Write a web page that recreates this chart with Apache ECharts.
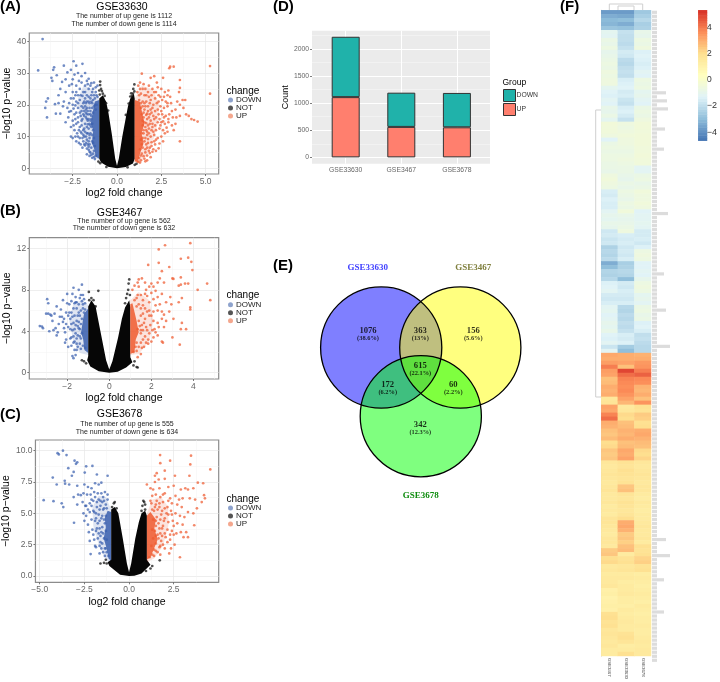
<!DOCTYPE html>
<html><head><meta charset="utf-8">
<style>html,body{margin:0;padding:0;background:#fff}#c{width:720px;height:682px}</style>
<script src="https://cdn.jsdelivr.net/npm/echarts@6/dist/echarts.min.js"></script>
</head><body><div id="c"></div>
<script>
// ---------- panel A (GSE33630) ----------
const aDown=[-4.2,40.7,-4.45,30.8,-3.6,31,-3.55,31.8,-3.7,28.5,-3.65,27.5,-3.4,29.3,-3,32.3,-2.45,33.7,-2.3,32.3,-1.95,32.9,-2.8,30.2,-2.6,31,-2.9,28,-3.1,27.2,-3.2,25,-3.3,23,-3.9,22,-4,21,-4.05,19,-3.95,16,-3.5,20.2,-3.3,20.5,-3.2,17.2,-3,21,-2.9,24,-2.7,26,-2.5,28,-2.4,29.5,-2.2,30,-2,29,-1.8,30,-1.6,28.2,-1.5,26,-1.3,27,-1.2,25.5,-2.6,22,-2.5,24,-2.3,26,-2.2,23,-2.1,25,-2,27,-1.9,24,-1.8,26,-1.7,23,-1.6,25,-1.5,22,-1.4,24,-2.8,19,-2.7,20.5,-2.6,18,-2.5,20,-2.4,17,-2.3,21,-2.2,19,-2.1,21.5,-2,18,-1.9,20.5,-1.8,22,-1.7,19,-1.6,21,-1.5,18,-1.4,20.5,-1.3,23,-2.9,14.5,-2.75,16,-2.6,13,-2.5,15,-2.4,12,-2.3,14,-2.2,16,-2.1,13,-2,15,-1.9,12,-1.85,16.5,-1.8,14,-1.75,17.5,-1.7,11,-1.65,15,-1.6,17,-2.6,10,-2.5,9.5,-2.3,8.5,-2.2,10,-2.1,9.5,-2,11,-1.9,8.5,-1.85,10,-1.8,7.2,-1.7,9,-1.6,5.8,-1.65,7.5,-1.55,9.5,-1.5,4.9,-1.45,6.5,-1.4,3.3,-1.5,11,-1.5,13.5,-1.45,15.5,-1.4,8.5,-1.35,17.5,-1.35,4.6,-1.3,19.5,-1.25,22,-1.2,24,-1.15,23,-1.1,26,-1.1,22.5,-2.1,17.5,-2.35,23,-2.55,26.5,-2.15,27.5,-1.7,27.5,-1.95,22.8,-1.75,20.5,-2.45,18.8,-2.7,17.8,-3.05,19.5,-3.45,17.2];
const aDownMore=[-1.2,4,-1.3,5.5,-1.25,7,-1.35,8,-1.3,9.5,-1.4,10.5,-1.35,12,-1.45,13,-1.4,14,-1.5,15,-1.45,16.5,-1.5,17,-1.4,19,-1.45,21,-1.35,21.5,-1.55,7.5,-1.6,8.5,-1.55,10.5,-1.65,11,-1.6,12.5,-1.7,13,-1.55,14,-1.65,13.8,-1.7,15.5,-1.6,15.5,-1.75,16,-1.65,18,-1.55,19,-1.7,17,-1.75,18.5,-1.8,19.5,-1.85,18,-1.9,17,-1.95,15.5,-2,13.5,-1.8,11.5,-1.85,12.5,-1.75,10,-1.9,10.5,-1.95,9.5,-2.05,11.5,-2.15,12,-2.2,14.5,-2.05,16.5,-2,19.5,-1.9,19,-1.85,21,-1.7,21,-1.6,22.5,-1.55,20.5,-1.45,23,-1.35,25,-1.25,20,-1.2,18.5,-1.15,20,-1.6,6.8,-1.7,6.2,-1.75,8,-1.85,7.5,-1.55,5.2,-1.45,4.2,-1.3,3.5,-1.25,2.9,-1.55,3.9,-1.7,4.4,-1.95,6.5,-2.05,7.5,-2.15,8,-2.25,11,-2.35,10,-2.45,13.5,-2.35,15.5,-2.3,17.5,-2.2,20.5,-2.05,23,-1.8,24,-1.65,26.5,-1.45,26.8,-2.3,24,-2.45,22,-2.35,19.8];
const aUp=[5.25,32.2,5.25,23.5,3,32,2.95,31.5,3.2,32,3.55,27.8,3.55,25.3,3.5,24,2.9,24.5,2.85,23,3,22.5,3.4,21,3.7,21.5,3.85,21.5,3.55,20,3.75,19,3.9,17,4.05,16.5,4.2,15.5,4.35,15.2,4.55,14.7,3.55,8.5,3.2,12,1.4,29.8,1.3,27,1.5,26.5,1.9,28.5,2.1,29,2.6,28.5,2.25,27,1.2,26,1.6,25,1.8,26,2,25,2.2,24,2.5,25,2.7,24,1.15,24,1.35,23.5,1.55,23,1.75,24,1.95,23,2.15,22,2.35,23,2.55,21.5,2.75,21,3.05,20.5,1.25,21.5,1.45,21,1.65,21,1.85,20.5,2.05,20,2.25,20.5,2.45,19.5,2.65,19,2.85,19.5,3.1,18,3.3,18.5,1.35,19,1.55,18.5,1.75,18,1.95,17.5,2.15,18,2.35,17,2.55,17,2.75,16.5,2.95,17,3.15,16,3.35,16,3.55,16.5,1.5,16,1.7,15.5,1.9,15,2.1,15.5,2.3,14.5,2.5,14.5,2.7,14,2.9,14.5,3.1,13.5,3.3,14,1.6,13,1.8,12.5,2,13,2.2,12,2.4,12.5,2.6,12,2.85,11.5,1.5,11,1.7,10.5,1.9,10,2.1,10.5,2.3,9.5,2.5,10,1.55,8.5,1.75,8,1.95,8.2,2.15,7.5,2.4,7.8,1.45,6.5,1.6,6,1.8,5.5,2,5.2,1.4,4.6,1.5,3.8,1.7,4,1.9,3.5,1.35,2.5,1.7,2.5,1.2,2,1.3,1.8];
const aUpMore=[1.15,2.2,1.25,3.2,1.35,4,1.3,6,1.4,7.5,1.35,9,1.45,9.5,1.4,11,1.5,12,1.45,13.5,1.55,14.5,1.45,15,1.5,17.5,1.4,17,1.45,19.5,1.35,20.5,1.25,23,1.6,5,1.7,6.5,1.65,7.5,1.6,9.5,1.75,9.2,1.7,11.5,1.65,12,1.8,11,1.75,13.5,1.65,14.2,1.85,14,1.8,16,1.65,16.8,1.85,17,1.7,17.2,1.6,19.5,1.75,19.5,1.55,20.5,1.9,18.5,2,19,1.9,21.5,1.8,22.5,1.65,23,1.45,25,1.3,25,1.95,12,2.05,11.5,2,14,2.15,13.5,2.05,16.5,2.2,16,2.3,18.5,2.4,15.5,2.45,13.5,2.2,9,2.1,8.5,1.85,6.5,1.95,7,2.05,6,1.55,3,1.6,2.2,1.85,4.8,2.2,5.5,2.35,6.3,2.6,8.5,2.7,11,2.8,12.8,2.9,15.5,2.6,14.8,2.65,16,2.5,18,2.1,24,2.3,25.5,2.45,22.5,2.65,22.5,2.85,20.5,2.35,21];
const aNotPts=[-0.95,27.3,-0.95,26.2,-0.9,25,-0.85,24.3,-1,24.5,-0.8,23.5,-0.7,22.8,-0.97,23.2,0.98,26.4,0.92,25,0.9,23.5,0.85,22.8,0.8,23.6,0.98,24.2,0.75,22.6,-1.05,2.1,-0.95,1.6,1.1,1.4,1,1.1,-0.6,0.4,0.6,0.3,-0.62,20.5,0.66,20.4,-0.5,18.2,0.5,16.8];
const aNotEdge=[[0,0],[-0.5,0.5],[-0.9,1.8],[-1,3],[-1,22],[-0.8,23],[-0.62,21],[-0.5,18],[-0.3,11],[-0.1,3],[0,0.8],[0.1,3],[0.3,10],[0.5,16],[0.62,19.5],[0.75,22],[0.95,23.5],[1,22],[1,3],[0.9,1.5],[0.5,0.4]];
const aDownHalo=[[-1,2.6],[-1.35,3.5],[-1.6,5.5],[-1.9,10],[-2.1,16],[-2.2,22],[-1.9,26],[-1.4,25],[-1,22]];
const aDownCore=[[-1,3],[-1.2,3.6],[-1.28,6],[-1.42,8],[-1.34,12],[-1.48,14],[-1.36,18],[-1.25,21],[-1,21.5]];
const aUpHalo=[[1,1.8],[1.4,2.2],[1.7,4],[2,8],[2.3,14],[2.4,20],[2,25],[1.4,26],[1,22]];
const aUpCore=[[1,2],[1.2,2.6],[1.32,5],[1.5,8],[1.38,11],[1.55,14],[1.4,18],[1.28,21],[1,21.5]];
const aXTicks=[-2.5,0,2.5,5], aXMinor=[-3.75,-1.25,1.25,3.75], aYTicks=[0,10,20,30,40], aYMinor=[5,15,25,35];
// ---------- panel B (GSE3467) ----------
const bDown=[-3.3,4.5,-3.2,4.45,-3.15,4.3,-2.95,7.1,-2.9,6.7,-3,5.7,-2.9,5.7,-2.8,5.6,-2.7,5,-2.6,5.7,-2.5,6.4,-2.4,4.7,-2.55,4.3,-2.65,4.1,-2.85,4,-2.5,3.6,-2.3,6.1,-2.25,5.4,-2.2,4.9,-2.15,4.3,-2.1,3.9,-2.05,3.2,-2,6.7,-2,7.6,-1.9,5.8,-1.85,5.2,-1.8,4.7,-1.75,4.1,-1.7,3.5,-1.65,3,-1.75,7.6,-1.7,8.2,-1.45,8,-1.3,8.5,-1.6,6.8,-1.55,6.2,-1.5,5.5,-1.45,4.9,-1.4,4.2,-1.35,3.3,-1.5,2.5,-1.6,1.7,-1.7,1.4,-1.75,1.6,-1.55,2.2,-1.4,7.2,-1.3,6.9,-1.25,7.5,-1.2,7.1,-1.15,6.7,-2.2,7,-2.35,5.4,-2.05,5.8,-1.95,4.4,-1.85,3.3,-1.65,5.5,-1.6,4.6,-1.5,3.6,-1.4,2.8,-1.9,6.6,-1.8,5.8,-1.7,6.2,-1.6,7.3,-1.35,6,-1.45,6.6,-2.45,3.9,-2.75,5.5,-2.1,2.9,-1.95,2.5,-1.8,2.6,-1.65,2.2];
const bDownMore=[-1.15,2.4,-1.25,2.6,-1.35,2.3,-1.3,3.8,-1.4,3.5,-1.35,4.7,-1.45,4.3,-1.3,5.2,-1.4,5.5,-1.5,4.5,-1.55,3.3,-1.6,3.8,-1.55,5,-1.65,4.2,-1.7,4.8,-1.75,5.4,-1.7,2.9,-1.8,3.4,-1.85,4.2,-1.55,2.8,-1.25,6.2,-1.2,5.8,-1.15,6.1,-1.45,5.8,-1.55,6.8,-1.65,6.7,-1.8,6.9,-1.95,5.5,-2.05,4.7,-2.15,5.2,-1.35,7.5,-1.25,6.6];
const bUp=[3.85,12.5,2.65,12.3,2.35,11.9,3.4,11,3.75,11.1,3.9,10.7,2.35,10.6,1.85,10.4,2.85,10.2,3.95,9.9,2.5,9.8,3.05,9.05,3,9.1,3.4,9.2,4.65,8.6,4.2,8,4.8,7,3.75,8.6,3.6,8.6,3.4,8.5,3.3,8.4,3.85,6.3,3.85,6.1,3.45,7.2,3.3,6.8,3.45,4.8,3.4,4.2,3.65,4.2,3.35,2.7,3,3.4,2.5,3,2.55,2.9,1.1,8,1.2,8.4,1.35,7.5,1.4,8.3,1.4,9,1.35,8.7,1.55,9.1,1.75,8,1.7,8.7,1.9,8.3,2,8.6,2.1,8.3,2.2,7.9,2.3,8.7,2.4,9.1,2.6,8.7,1.5,7.5,1.6,7,1.8,7.4,1.9,6.8,2.1,7.1,2.3,7.3,2.5,7.6,2.7,6.8,2.9,7.3,2.95,6.6,1.5,6.2,1.7,6.2,1.9,6,2.1,5.9,2.3,6,2.5,5.9,2.6,5.6,2.85,5.9,3.05,5.2,1.5,5.5,1.7,5.2,1.9,5.5,2.1,5,2.3,4.8,2.5,5.2,2.7,5,1.55,4.6,1.75,4.4,1.95,4.6,2.15,4.2,2.35,4.4,2.6,4.4,1.5,3.8,1.7,3.5,1.9,3.8,2.1,3.4,2.3,3.6,1.5,2.9,1.65,2.5,1.85,2.8,1.3,2.1,1.5,1.8,1.35,1.5];
const bUpMore=[1.15,2,1.25,2.5,1.3,2.9,1.4,2.5,1.35,4.2,1.45,4.5,1.4,5,1.5,4.1,1.6,3.2,1.6,4.1,1.65,4.8,1.8,4.1,1.6,5.7,1.8,5.9,1.3,6.4,1.4,6.6,1.2,7,1.3,7.2,1.6,6.5,1.7,7.6,1.85,3.2,2,3,2.05,4.1,2.2,3.9,2,5.5,1.75,2.9,1.55,2.4,2.2,6.5,2.4,6.6,2,7.7];
const bNotPts=[-0.52,7.9,-0.97,7.8,-0.85,7.2,-0.75,7,-0.95,7,-0.65,6.4,0.95,9,0.92,8.6,0.9,8,0.85,7.6,0.8,7.2,0.75,6.7,0.98,7.5,-1.2,1.1,-1.1,0.9,-1.3,1.2,1.2,1.1,1.3,0.55,1.35,0.5,1.15,0.7];
const bNotEdge=[[0,0],[-0.5,0.15],[-0.9,0.6],[-1.05,1.2],[-1,1.6],[-1,6.4],[-0.85,7],[-0.65,6.4],[-0.42,4],[-0.15,1.2],[0,0.3],[0.15,1.1],[0.42,3.4],[0.6,5.2],[0.75,6.3],[0.95,7],[1,6.3],[1,1.5],[1.1,1],[0.8,0.5],[0.4,0.1]];
const bDownHalo=[[-1,1.7],[-1.4,1.9],[-1.7,3],[-1.9,5],[-1.7,6.7],[-1.3,7],[-1,6.5]];
const bDownCore=[[-1,1.9],[-1.18,2.2],[-1.24,3.2],[-1.34,3.9],[-1.26,5],[-1.2,5.7],[-1,6.2]];
const bUpHalo=[[1,1.7],[1.4,1.8],[1.9,3],[2.1,5],[1.9,7],[1.4,7.8],[1,7]];
const bUpCore=[[1,1.8],[1.2,2],[1.26,3.2],[1.4,3.9],[1.3,5],[1.22,5.7],[1.1,6.7],[1,6.6]];
const bXTicks=[-2,0,2,4], bXMinor=[-3,-1,1,3,5], bYTicks=[0,4,8,12], bYMinor=[2,6,10];
// ---------- panel C (GSE3678) ----------
const cDown=[-4.78,6.05,-4.23,5.97,-4.27,7.85,-4.05,7.3,-4,9.8,-3.93,9.7,-3.7,10,-3.5,9.65,-3.05,9.2,-2.9,9.07,-2.97,8.95,-3.4,8.6,-2.4,8.75,-2.05,8.78,-3.1,8.3,-3.2,8,-2.48,8.25,-1.8,8.1,-1.2,8,-3.6,7.6,-3.58,7.37,-3.35,7.3,-3.77,5.8,-3.68,5.5,-3.08,4.25,-2.15,1.75,-2.9,7.2,-2.5,7.3,-2.3,7.1,-2.1,7,-1.9,7.4,-1.7,7.3,-1.55,7.45,-3.1,6.3,-2.85,6.5,-2.7,6.45,-2.55,6.6,-2.35,6.5,-2.15,6.5,-1.95,6.7,-1.75,6.6,-1.55,6.6,-1.35,6.7,-2.9,5.7,-2.6,5.9,-2.4,5.6,-2.2,5.8,-2,6,-1.8,5.9,-1.6,6,-1.4,6,-1.2,6.1,-2.55,5,-2.4,4.8,-2.2,5.1,-2,5.2,-1.85,5,-1.65,5.3,-1.45,5.3,-1.25,5.4,-2.5,4.4,-2.3,4.1,-2.1,4.5,-1.9,4.4,-1.75,4.2,-1.55,4.6,-1.4,4.5,-2.25,3.5,-2.05,3.7,-1.85,3.6,-1.65,3.8,-1.5,3.9,-2.2,2.8,-1.95,2.9,-1.75,3,-1.6,3.2,-1.85,2.3,-1.65,2.4,-1.5,2.6,-1.65,1.8,-1.45,1.9,-1.35,1.6,-1.3,2.2];
const cDownMore=[-1.15,1.6,-1.25,1.9,-1.35,2.2,-1.25,2.9,-1.4,3,-1.3,3.6,-1.45,3.4,-1.35,4.2,-1.5,4.8,-1.3,4.8,-1.4,5.4,-1.55,2.2,-1.6,2.7,-1.55,3.5,-1.7,3.4,-1.65,4.4,-1.8,3.8,-1.7,4.9,-1.85,4.6,-1.95,5.1,-2.1,5.6,-1.9,2.4,-2,3.3,-1.8,5.5,-1.6,5.6,-1.5,5.9,-1.3,5.7,-1.2,6.5,-1.45,6.3,-1.7,6.1,-1.9,6.3,-2.1,6.1,-2.3,5.3,-2.45,5.6];
const cUp=[1.74,9.65,3.47,9.6,2.3,9.2,1.75,9,3.43,8.9,4.55,8.5,2,8.4,1.55,8.2,1.45,8,2.57,8,3.38,8,1.66,7.7,2,7.75,1,7.3,1.45,7.5,3.85,7.45,4.15,7.4,3.6,7,4.2,6.45,4.25,6.2,4.07,5.9,3.8,5.4,3.3,5.1,3.6,5,3.65,4.05,3.2,3.5,3.05,3.1,3.3,3.1,2.85,1.5,2.25,1.8,1.2,7,1.35,6.9,1.7,7,2.2,7.1,2.5,7.2,2.9,6.9,3.15,7,3.3,6.9,1.3,6.4,1.5,6.5,1.75,6.3,2,6.6,2.3,6.2,2.6,6.4,2.8,6.1,3,6.2,3.4,6.2,3.7,6.1,1.25,5.8,1.5,5.7,1.7,5.8,1.9,5.9,2.15,5.5,2.4,5.8,2.7,5.7,2.95,5.5,1.4,5.2,1.6,5.3,1.85,5.2,2.1,5,2.35,5.2,2.6,5,2.85,4.8,3.1,4.7,1.55,4.7,1.75,4.5,2,4.6,2.2,4.3,2.45,4.4,2.7,4.2,3,4.1,1.5,4,1.7,3.8,1.9,4,2.15,3.7,2.4,3.6,2.65,3.4,2.9,3.5,1.6,3.3,1.85,3.2,2.05,3.1,2.3,2.9,2.55,2.5,1.5,2.6,1.75,2.4,2,2.2,2.35,2.2,1.5,2,1.75,1.7,1.4,1.6];
const cUpMore=[1.15,1.5,1.3,1.7,1.25,2.4,1.4,2.1,1.35,3,1.5,3.2,1.3,3.7,1.45,3.6,1.35,4.5,1.5,4.4,1.3,5.3,1.45,5.5,1.6,1.9,1.7,2.3,1.65,3,1.8,2.8,1.9,2.5,1.75,3.4,1.85,3.8,2,3.4,2.15,2.7,1.95,4.4,1.65,4.2,1.8,4.9,2,5.4,2.2,4.9,1.7,5.5,2.2,6,2.4,4.9,2.5,3.3,2.3,3.3,2.5,4,1.55,6,1.9,6.5,1.2,6];
const cNotPts=[-0.85,5.8,-0.8,5.9,-0.95,5.5,-0.7,5.4,0.8,6,0.85,5.9,0.9,5.7,0.9,5.3,0.75,5.6,0.7,5.2,-1.6,1,-1.4,1.05,-1.25,1,-1.3,1.3,1.72,1.25,1.3,0.8,1.2,0.6,0.95,0.4];
const cNotEdge=[[0,0],[-0.5,0.1],[-1.1,0.8],[-1.2,1.1],[-1,1.3],[-1,5.3],[-0.8,5.5],[-0.6,5],[-0.5,4.2],[-0.35,3],[-0.12,1],[0,0.3],[0.12,1],[0.35,3],[0.55,4.3],[0.7,5],[0.9,5.2],[1,4.8],[1,1.3],[1.2,0.9],[0.7,0.2],[0.3,0.02]];
const cDownHalo=[[-1,1],[-1.3,1.3],[-1.7,2.5],[-2,4],[-2.05,5.5],[-1.7,6.4],[-1.3,6.3],[-1,5.3]];
const cDownCore=[[-1,1.2],[-1.15,1.4],[-1.25,2.2],[-1.42,3],[-1.3,3.9],[-1.36,4.6],[-1.2,5.2],[-1,5.1]];
const cUpHalo=[[1,1.1],[1.4,1.4],[1.9,2.4],[2.2,4],[2.2,5.5],[1.8,6.3],[1.3,6.1],[1,5]];
const cUpCore=[[1,1.3],[1.2,1.5],[1.4,2.2],[1.6,2.9],[1.42,3.8],[1.5,4.5],[1.2,5.1],[1,4.8]];
const cXTicks=[-5,-2.5,0,2.5], cXMinor=[-3.75,-1.25,1.25,3.75], cYTicks=[0,2.5,5,7.5,10], cYMinor=[1.25,3.75,6.25,8.75];
// ---------- panel D ----------
const barCategories=['GSE33630','GSE3467','GSE3678'];
const barUp=[1112,562,555];
const barDown=[1114,632,634];
const barYTicks=[0,500,1000,1500,2000], barYMinor=[250,750,1250,1750,2250];
// ---------- panel E ----------
const vennNames=['GSE33630','GSE3467','GSE3678'];
const vennCounts=[1076,363,156,615,172,60,342];
const vennPercents=['38.6%','13%','5.6%','22.1%','6.2%','2.2%','12.3%'];
// ---------- panel F ----------
const heatColumns=['GSE3467','GSE33630','GSE3678'];
const heatCol1=[-3.8,-3.4,-3.1,-3.2,-2.8,-1.1,-1.2,-0.8,-0.9,-0.7,-1,-0.9,-0.8,-0.7,-0.8,-0.6,-0.7,-0.6,-0.6,-1.1,-1.3,-1.4,-1.2,-1.3,-0.9,-1,-0.8,-1.1,-0.45,-0.5,-0.5,-0.6,-1.3,-0.8,-0.7,-0.8,-0.7,-0.7,-0.8,-0.8,-0.9,-0.6,-0.5,-0.6,-0.7,-1.5,-1.6,-1.4,-1.5,-1.5,-1.2,-1,-1.1,-0.9,-1,-1.7,-1.6,-1.8,-1.7,-2.4,-2.2,-2.3,-2.1,-3.4,-3,-2.3,-2.4,-2.2,-1.4,-1.3,-1.2,-1.6,-1.7,-1.5,-1.2,-1.1,-1.3,-1.2,-1,-1.1,-0.9,-1.3,-1.4,-1.2,-1.8,-1.2,3.1,3,3.3,3.9,3.3,3.2,2.6,2.7,3,2.9,3,1.6,1.7,3.2,3.1,3.8,4.2,3,2.9,2.6,2.5,2.7,2,2.1,2.5,2.4,2.5,1.6,1.5,1.6,1.7,1.6,1.5,1.6,1.7,1.5,1.5,1.6,1.4,1.5,1.4,1.7,1.7,1.6,1.5,1.4,1.6,1.6,1.5,2.4,2.5,2,2.1,1.5,1.6,1.4,1.5,1.5,1.6,1.1,1.2,1,1.1,1.2,1.1,1.9,2,1.8,1.9,1.6,1.7,1.6,1.5,1.6,1.4,1.4];
const heatCol2=[-3.8,-3.5,-3,-3.4,-2.9,-1.9,-2,-2,-2.1,-1.9,-1.6,-1.7,-2.1,-2.2,-2,-1.9,-2,-1.5,-1.4,-1.3,-1.6,-1.5,-1.8,-1.9,-1.5,-1.4,-1.6,-1.9,-0.6,-0.7,-0.6,-0.5,-0.6,-0.6,-0.7,-0.8,-0.7,-0.6,-0.7,-0.8,-0.8,-0.9,-1,-0.8,-0.9,-0.7,-0.8,-0.9,-0.7,-0.8,-0.5,-0.9,-1,-0.9,-0.8,-0.6,-1.5,-1.6,-1.5,-1.7,-1.6,-1.7,-1.5,-2.5,-2.4,-2.2,-2.3,-3,-1.6,-1.7,-1.5,-1.6,-1.7,-1.5,-2.2,-2.3,-2.1,-2.2,-2,-2.1,-1.9,-1.5,-1.6,-1.4,-2.6,-3,3,3,3.2,2.6,4.9,4.2,3.8,3.7,3.6,3.7,3.5,3.2,2.8,1.5,1.6,2.1,2,2.6,2.7,2.9,2.8,3,2.6,2.7,3.1,3,3.2,1.8,1.7,1.9,1.8,1.7,1.8,2.5,2.6,1.7,1.6,1.8,1.7,1.6,1.7,2,3,3.1,2.9,2.4,2.5,2.3,2.6,2.7,1.4,1.8,1.9,1.6,1.7,1.4,1.5,1.3,1.4,1.4,1.5,1.3,1.3,1.2,1.4,1.3,1.4,1.5,1.4,1.4,1.8,1.9,1.7,1.3,1.4,1.9,1.8];
const heatCol3=[-2.7,-2.5,-2.2,-2.5,-2.4,-0.9,-1,-0.7,-0.8,-0.6,-1.4,-1.3,-1.4,-1.5,-1.4,-1.2,-1.3,-0.7,-0.8,-0.7,-1.1,-1,-1.2,-1.3,-0.8,-0.7,-0.8,-0.6,-0.45,-0.45,-0.5,-0.45,-0.45,-0.45,-0.5,-0.5,-0.45,-0.5,-0.5,-1.2,-1.2,-0.8,-0.7,-0.9,-0.8,-0.5,-0.6,-0.6,-0.5,-0.6,-1.3,-1.2,-1.2,-1.1,-1.2,-1.6,-1.6,-1.5,-1.7,-1.4,-0.7,-0.6,-0.7,-1.3,-1.3,-1.2,-1.3,-1,-0.7,-0.6,-0.7,-1.1,-1,-1.2,-0.8,-0.7,-0.9,-0.8,-1.4,-1.3,-1.5,-2,-1.9,-2.1,-2.2,-2.2,2.9,3,3.4,3.5,3.9,4.4,3.7,3.6,2.9,2.8,3,2.6,3.5,1.9,1.8,2.4,2.3,1.9,2,3,3.1,2.9,2.7,2.6,2.1,2,2.2,1.6,1.5,1.6,1.7,1.6,1.5,1.6,1.6,1.4,1.3,1.5,1.4,1.3,1.4,1.4,1.5,1.6,1.5,1.5,1.6,1.4,1.9,1.8,1.9,2.2,2.3,1.8,1.9,1.3,1.4,1.3,1.2,1.3,1.4,1.3,1.2,1.4,1.3,1.2,1.3,1.3,1.4,1.3,1.3,1.4,1.5,1.4,1.5,1.5,1.6,1.5];
const geneLabelLongRows=[[20,14],[22,15],[24,16],[29,13],[34,12],[50,16],[65,12],[74,14],[83,18],[131,14],[135,18],[141,12],[149,12],[162,16]];
const geneLabelBase=5;
const colorbarTicks=[-4,-2,0,2,4];
const colorbarLevels=[-4.6,-4.4,-4.2,-4,-3.8,-3.6,-3.4,-3.2,-3,-2.8,-2.6,-2.4,-2.2,-2,-1.8,-1.6,-1.4,-1.2,-1,-0.8,-0.6,-0.4,-0.2,0,0.2,0.4,0.6,0.8,1,1.2,1.4,1.6,1.8,2,2.2,2.4,2.6,2.8,3,3.2,3.4,3.6,3.8,4,4.2,4.4,4.6,4.8,5,5.2];
const heatPalette=['#4575b4','#91bfdb','#e0f3f8','#ffffbf','#fee090','#fc8d59','#d73027'];

const BLUE='#3a5fae',ORANGE='#ee5a2f',FONT='"Liberation Sans",Arial,sans-serif',SERIF='"Liberation Serif",serif';
const pairs=f=>{const o=[];for(let i=0;i<f.length;i+=2)o.push([f[i],f[i+1]]);return o;};
const minus=s=>String(s).replace('-','\u2212');

const grid=[],xAxis=[],yAxis=[],series=[],legend=[],graphic=[];
const text=(t,x,y,font,fill,align)=>graphic.push({type:'text',x,y,silent:true,z:50,style:{text:t,font,fill:fill||'#000',textAlign:align||'center',textVerticalAlign:'middle',verticalAlign:'middle'}});
const noZero={show:false,onZero:false};

function poly(name,pts,color,xi,yi){
  series.push({type:'custom',name,xAxisIndex:xi,yAxisIndex:yi,silent:true,clip:true,data:[pts[0]],
    renderItem:(p,api)=>({type:'polygon',shape:{points:pts.map(q=>api.coord(q))},style:{fill:color}})});
}
function volcano(cfg){
  const gi=grid.length;
  grid.push({left:cfg.box[0],top:cfg.box[1],width:cfg.box[2]-cfg.box[0],height:cfg.box[3]-cfg.box[1],show:true,backgroundColor:'#fff',borderColor:'#8c8c8c',borderWidth:1.2});
  const xi=xAxis.length,yi=yAxis.length;
  const lab={fontSize:8.5,color:'#666',fontFamily:FONT,margin:3};
  xAxis.push({type:'value',gridIndex:gi,position:'bottom',min:cfg.xr[0],max:cfg.xr[1],name:'log2 fold change',nameLocation:'middle',nameGap:14,
    nameTextStyle:{fontSize:10.5,color:'#000',fontFamily:FONT},axisLine:noZero,
    axisTick:{length:2,lineStyle:{color:'#444',width:.7},customValues:cfg.xt},
    axisLabel:{...lab,customValues:cfg.xt,formatter:v=>minus(v.toFixed(cfg.xd))},splitLine:{show:true,lineStyle:{color:'#e6e6e6',width:.7}}});
  xAxis.push({type:'value',gridIndex:gi,position:'bottom',min:cfg.xr[0],max:cfg.xr[1],axisLine:noZero,axisLabel:{show:false},
    axisTick:{show:false,customValues:cfg.xm},splitLine:{show:true,lineStyle:{color:'#f3f3f3',width:.5}}});
  yAxis.push({type:'value',gridIndex:gi,position:'left',min:cfg.yr[0],max:cfg.yr[1],name:'\u2212log10 p\u2212value',nameLocation:'middle',nameGap:cfg.yGap||15,
    nameTextStyle:{fontSize:10.5,color:'#000',fontFamily:FONT},axisLine:noZero,
    axisTick:{length:2,lineStyle:{color:'#444',width:.7},customValues:cfg.yt},
    axisLabel:{...lab,customValues:cfg.yt,formatter:v=>minus(v.toFixed(cfg.yd))},splitLine:{show:true,lineStyle:{color:'#e6e6e6',width:.7}}});
  yAxis.push({type:'value',gridIndex:gi,position:'left',min:cfg.yr[0],max:cfg.yr[1],axisLine:noZero,axisLabel:{show:false},
    axisTick:{show:false,customValues:cfg.ym},splitLine:{show:true,lineStyle:{color:'#f3f3f3',width:.5}}});
  const sc=(name,flat,color,op)=>series.push({type:'scatter',name,xAxisIndex:xi,yAxisIndex:yi,silent:true,symbolSize:2.7,data:pairs(flat),itemStyle:{color,opacity:op}});
  poly('DOWN',cfg.dh,'rgba(58,95,174,.16)',xi,yi);
  poly('DOWN',cfg.dc,'rgba(58,95,174,.85)',xi,yi);
  sc('DOWN',cfg.d.concat(cfg.d2),BLUE,.72);
  poly('NOT',cfg.ne,'#060606',xi,yi);
  sc('NOT',cfg.np,'#111',.75);
  poly('UP',cfg.uh,'rgba(238,90,47,.16)',xi,yi);
  poly('UP',cfg.uc,'rgba(238,90,47,.85)',xi,yi);
  sc('UP',cfg.u.concat(cfg.u2),ORANGE,.72);
  text(cfg.title,cfg.tx,cfg.ty,'10.5px '+FONT);
  text(cfg.sub1,cfg.sx,cfg.ty+cfg.s1,'7px '+FONT,'#222');
  text(cfg.sub2,cfg.sx,cfg.ty+cfg.s2,'7px '+FONT,'#222');
  text(cfg.tag,0,cfg.tagY,'bold 15px '+FONT,'#000','left');
  text('change',226.5,cfg.lgY,'10px '+FONT,'#000','left');
  legend.push({orient:'vertical',left:228,top:cfg.lgY+5,itemWidth:5,itemHeight:5,itemGap:0,icon:'circle',selectedMode:false,padding:0,
    textStyle:{fontSize:8,color:'#222',fontFamily:FONT,padding:[0,0,0,-2]},
    data:[{name:'DOWN',itemStyle:{color:'#8ea3cd'}},{name:'NOT',itemStyle:{color:'#555'}},{name:'UP',itemStyle:{color:'#f4a78e'}}]});
}
volcano({box:[29.3,33,218.7,174],xr:[-4.95,5.74],yr:[-1.8,42.6],xt:aXTicks,xm:aXMinor,yt:aYTicks,ym:aYMinor,xd:1,yd:0,
  d:aDown,d2:aDownMore,u:aUp,u2:aUpMore,np:aNotPts,ne:aNotEdge,dh:aDownHalo,dc:aDownCore,uh:aUpHalo,uc:aUpCore,
  title:'GSE33630',sub1:'The number of up gene is 1112',sub2:'The number of down gene is 1114',tx:122,sx:124,ty:7,s1:9.3,s2:17,tag:'(A)',tagY:7,lgY:91});
volcano({box:[29.3,237.7,218.7,379],xr:[-3.8,5.2],yr:[-0.61,13.03],xt:bXTicks,xm:bXMinor,yt:bYTicks,ym:bYMinor,xd:0,yd:0,
  d:bDown,d2:bDownMore,u:bUp,u2:bUpMore,np:bNotPts,ne:bNotEdge,dh:bDownHalo,dc:bDownCore,uh:bUpHalo,uc:bUpCore,
  title:'GSE3467',sub1:'The number of up gene is 562',sub2:'The number of down gene is 632',tx:119.5,sx:124,ty:212.7,s1:8,s2:15.6,tag:'(B)',tagY:211,lgY:295.7});
volcano({box:[35.3,440,218.7,582.3],xr:[-5.24,5.02],yr:[-0.5,10.85],xt:cXTicks,xm:cXMinor,yt:cYTicks,ym:cYMinor,xd:1,yd:1,yGap:20,
  d:cDown,d2:cDownMore,u:cUp,u2:cUpMore,np:cNotPts,ne:cNotEdge,dh:cDownHalo,dc:cDownCore,uh:cUpHalo,uc:cUpCore,
  title:'GSE3678',sub1:'The number of up gene is 555',sub2:'The number of down gene is 634',tx:119.5,sx:127,ty:414.3,s1:9.7,s2:17.4,tag:'(C)',tagY:415,lgY:499});

// ---------- D: background grid + bars ----------
{
  const top=30.7,h=133,yr=[-117,2338];
  let gi=grid.length;
  grid.push({left:312,top,width:178,height:h,show:true,backgroundColor:'#ebebeb',borderWidth:0});
  xAxis.push({type:'value',gridIndex:gi,min:0,max:1,show:false});
  yAxis.push({type:'value',gridIndex:gi,position:'left',min:yr[0],max:yr[1],name:'Count',nameLocation:'middle',nameGap:17,
    nameTextStyle:{fontSize:9,color:'#000',fontFamily:FONT},axisLine:noZero,
    axisTick:{length:2,lineStyle:{color:'#444',width:.7},customValues:barYTicks},
    axisLabel:{customValues:barYTicks,fontSize:6.8,color:'#666',fontFamily:FONT,margin:3,formatter:v=>String(v)},
    splitLine:{show:true,lineStyle:{color:'#fff',width:1}}});
  yAxis.push({type:'value',gridIndex:gi,position:'left',min:yr[0],max:yr[1],axisLine:noZero,axisLabel:{show:false},
    axisTick:{show:false,customValues:barYMinor},splitLine:{show:true,lineStyle:{color:'#f6f6f6',width:.6}}});
  gi=grid.length;
  grid.push({left:317.9,top,width:166.8,height:h,borderWidth:0});
  const xi=xAxis.length,yi=yAxis.length;
  xAxis.push({type:'category',gridIndex:gi,position:'bottom',data:barCategories,axisLine:noZero,
    axisTick:{length:2,alignWithLabel:true,lineStyle:{color:'#444',width:.7}},
    axisLabel:{fontSize:6.8,color:'#666',fontFamily:FONT,margin:3},
    splitLine:{show:true,alignWithLabel:true,lineStyle:{color:'#fff',width:1}}});
  yAxis.push({type:'value',gridIndex:gi,min:yr[0],max:yr[1],show:false});
  const bar=(name,data,color)=>series.push({type:'bar',name,xAxisIndex:xi,yAxisIndex:yi,stack:'g',barWidth:28,data,silent:true,
    itemStyle:{color,borderColor:'#333',borderWidth:1}});
  bar('UP',barUp,'#ff7f6e');
  bar('DOWN',barDown,'#20b2aa');
  text('Group',502.5,83,'8.5px '+FONT,'#000','left');
  legend.push({orient:'vertical',left:503,top:89,itemWidth:12,itemHeight:12,itemGap:1,icon:'rect',selectedMode:false,padding:0,
    textStyle:{fontSize:6.8,color:'#333',fontFamily:FONT,padding:[0,0,0,-4]},
    data:[{name:'DOWN',itemStyle:{color:'#20b2aa',borderColor:'#333',borderWidth:1}},{name:'UP',itemStyle:{color:'#ff7f6e',borderColor:'#333',borderWidth:1}}]});
  text('(D)',273,7,'bold 15px '+FONT,'#000','left');
}

// ---------- F: heatmap ----------
const heatSeries=[];
{
  const rows=heatCol1.map((_,i)=>'gene'+(i+1));
  const cells=[];
  [heatCol1,heatCol2,heatCol3].forEach((col,c)=>col.forEach((v,r)=>cells.push([c,r,v])));
  let gi=grid.length;
  grid.push({left:601.3,top:10.3,width:49.7,height:652,borderWidth:0});
  xAxis.push({type:'category',gridIndex:gi,data:heatColumns,axisLine:noZero,axisTick:{show:false},
    axisLabel:{rotate:-90,fontSize:4.3,color:'#444',fontFamily:FONT,margin:2,interval:0}});
  yAxis.push({type:'category',gridIndex:gi,data:rows,inverse:true,axisLabel:{show:false},axisTick:{show:false},
    axisLine:{show:true,onZero:false,lineStyle:{color:'#bbb',width:1}}});
  series.push({type:'heatmap',name:'heat',xAxisIndex:xAxis.length-1,yAxisIndex:yAxis.length-1,data:cells,silent:true,progressive:0});
  heatSeries.push(series.length-1);
  gi=grid.length;
  grid.push({left:652,top:10.3,width:20,height:652,borderWidth:0});
  xAxis.push({type:'value',gridIndex:gi,min:0,max:20,show:false});
  yAxis.push({type:'category',gridIndex:gi,data:rows,inverse:true,show:false});
  const lens=rows.map(()=>geneLabelBase);
  geneLabelLongRows.forEach(([r,l])=>lens[r]=l);
  series.push({type:'bar',name:'gene labels',xAxisIndex:xAxis.length-1,yAxisIndex:yAxis.length-1,data:lens,barWidth:3.2,silent:true,itemStyle:{color:'#dcdcdc'}});
  // colourbar: a one-column heatmap of the scale levels, with a value axis for its labels
  gi=grid.length;
  grid.push({left:698.3,top:10.3,width:8.7,height:130.4,borderWidth:0});
  xAxis.push({type:'category',gridIndex:gi,data:['scale'],show:false});
  yAxis.push({type:'category',gridIndex:gi,data:colorbarLevels.map(String),show:false});
  series.push({type:'heatmap',name:'colour scale',xAxisIndex:xAxis.length-1,yAxisIndex:yAxis.length-1,silent:true,progressive:0,
    data:colorbarLevels.map((v,i)=>[0,i,v])});
  heatSeries.push(series.length-1);
  gi=grid.length;
  grid.push({left:698.3,top:10.3,width:8.7,height:130.4,borderWidth:0});
  xAxis.push({type:'value',gridIndex:gi,min:0,max:1,show:false});
  yAxis.push({type:'value',gridIndex:gi,position:'right',min:-4.66,max:5.3,axisLine:noZero,axisTick:{show:false,customValues:colorbarTicks},splitLine:{show:false},
    axisLabel:{customValues:colorbarTicks,fontSize:9,color:'#333',fontFamily:FONT,margin:4,formatter:v=>minus(v)}});
  text('(F)',560,7,'bold 15px '+FONT,'#000','left');
}

// ---------- overlay: Venn + dendrogram (page-unit axes) ----------
{
  const gi=grid.length;
  grid.push({left:0,top:0,width:720,height:682,borderWidth:0});
  xAxis.push({type:'value',gridIndex:gi,min:0,max:720,show:false});
  yAxis.push({type:'value',gridIndex:gi,min:0,max:682,inverse:true,show:false});
  const xi=xAxis.length-1,yi=yAxis.length-1;
  const centres=[[381.2,347.5],[460.3,347.5],[420.8,416.2]];
  const fills=['rgba(0,0,255,.5)','rgba(255,255,0,.5)','rgba(0,255,0,.5)'];
  series.push({type:'scatter',name:'venn',xAxisIndex:xi,yAxisIndex:yi,silent:true,symbol:'circle',symbolSize:121.2,
    data:centres.map((c,i)=>({value:c,itemStyle:{color:fills[i],opacity:1}}))});
  series.push({type:'scatter',name:'venn outline',xAxisIndex:xi,yAxisIndex:yi,silent:true,symbol:'circle',symbolSize:121.2,
    itemStyle:{color:'rgba(0,0,0,0)',borderColor:'#000',borderWidth:1.3,opacity:1},data:centres});
  const labelAt=[[368,334.3],[420.3,334.3],[473.3,334.3],[420.3,369.8],[387.7,388.5],[453.3,388.5],[420.3,429]];
  series.push({type:'scatter',name:'venn labels',xAxisIndex:xi,yAxisIndex:yi,silent:true,symbolSize:1,itemStyle:{color:'rgba(0,0,0,0)'},
    data:labelAt.map((p,i)=>({value:p,count:vennCounts[i],pct:vennPercents[i]})),
    label:{show:true,position:'inside',formatter:p=>'{n|'+p.data.count+'}\n{p|('+p.data.pct+')}',
      rich:{n:{fontSize:8.6,fontWeight:'bold',fontFamily:SERIF,color:'#000',lineHeight:7.5,align:'center'},p:{fontSize:6.4,fontWeight:'bold',fontFamily:SERIF,color:'#000',lineHeight:7.5,align:'center'}}}});
  text(vennNames[0],367.7,267.7,'bold 9px '+SERIF,'#4040ff');
  text(vennNames[1],473.3,267.7,'bold 9px '+SERIF,'#80803f');
  text(vennNames[2],420.7,495.7,'bold 9px '+SERIF,'#0e8c0e');
  text('(E)',273,266,'bold 15px '+FONT,'#000','left');
  const branch=(name,pts)=>series.push({type:'line',name,xAxisIndex:xi,yAxisIndex:yi,silent:true,symbol:'none',data:pts,lineStyle:{color:'#cfcfcf',width:1}});
  branch('rowDendro',[[601,110],[595.7,110],[595.7,397],[601,397]]);
  branch('colDendro',[[609.3,10],[609.3,4],[642.7,4],[642.7,10]]);
  branch('colDendro2',[[618,10],[618,6],[634,6],[634,10]]);
}

const chart=echarts.init(document.getElementById('c'),null,{renderer:'canvas'});
chart.setOption({animation:false,backgroundColor:'#fff',grid,xAxis,yAxis,series,legend,graphic,
  tooltip:{show:false},
  visualMap:[{type:'continuous',show:false,seriesIndex:heatSeries,min:-4.66,max:5.3,inRange:{color:heatPalette}}]});
</script></body></html>
